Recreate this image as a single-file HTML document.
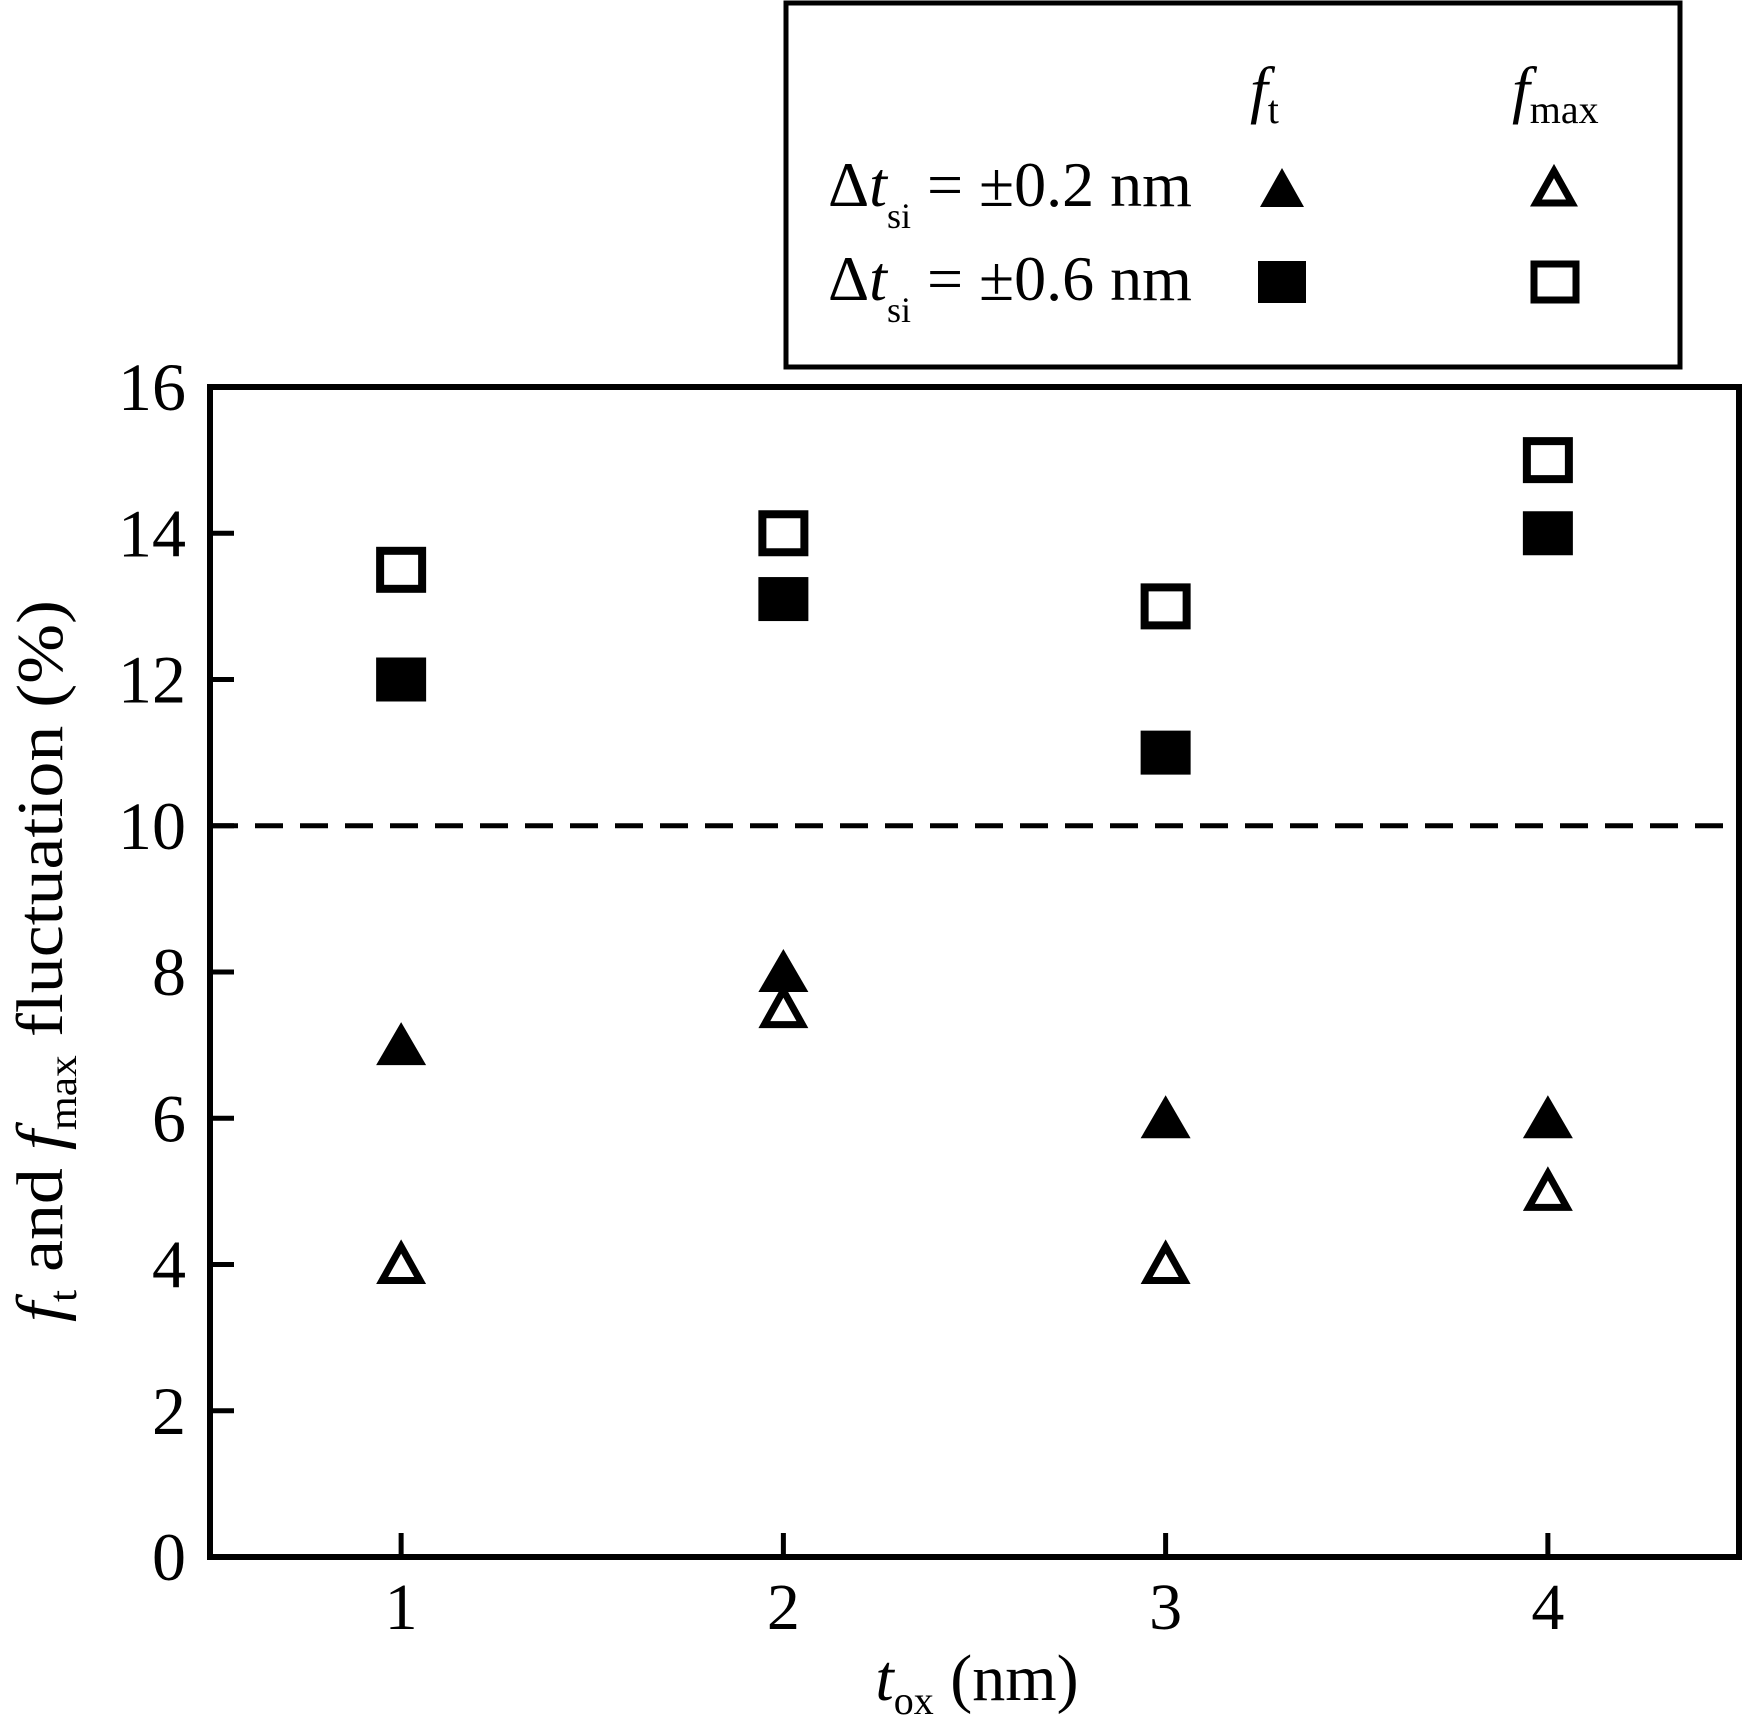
<!DOCTYPE html>
<html><head><meta charset="utf-8"><style>
html,body{margin:0;padding:0;background:#fff}
svg{display:block;font-family:"Liberation Serif",serif}
</style></head><body>
<svg id="chart" width="1743" height="1721" viewBox="0 0 1743 1721" xmlns="http://www.w3.org/2000/svg">
<rect width="1743" height="1721" fill="#fff"/>
<g id="legend">
  <rect x="786" y="3" width="894" height="364" fill="none" stroke="#000" stroke-width="5"/>
  <text x="1250" y="111" font-size="64" font-style="italic">f<tspan font-size="40" font-style="normal" dy="12">t</tspan></text>
  <text x="1512" y="111" font-size="64" font-style="italic">f<tspan font-size="40" font-style="normal" dy="12">max</tspan></text>
  <text x="828" y="206" font-size="64">Δ<tspan font-style="italic">t</tspan><tspan font-size="36" dy="22">si</tspan><tspan dy="-22"> = ±0.2 nm</tspan></text>
  <text x="828" y="300" font-size="64">Δ<tspan font-style="italic">t</tspan><tspan font-size="36" dy="22">si</tspan><tspan dy="-22"> = ±0.6 nm</tspan></text>
  <polygon points="1282,168 1304,207 1260,207" fill="#000"/>
  <polygon points="1554,171 1572,203 1536,203" fill="none" stroke="#000" stroke-width="7"/>
  <rect x="1258" y="261" width="48" height="42" fill="#000"/>
  <rect x="1534" y="264" width="42" height="36" fill="none" stroke="#000" stroke-width="7"/>
</g>
<g id="axes"></g>
<g id="marks"></g>
<text x="977" y="1700" font-size="66" text-anchor="middle"><tspan font-style="italic">t</tspan><tspan font-size="40" dy="14">ox</tspan><tspan dy="-14"> (nm)</tspan></text>
<text transform="translate(62,961) rotate(-90)" font-size="66" text-anchor="middle" textLength="722" lengthAdjust="spacingAndGlyphs"><tspan font-style="italic">f</tspan><tspan font-size="40" dy="14">t</tspan><tspan dy="-14"> and </tspan><tspan font-style="italic">f</tspan><tspan font-size="40" dy="14">max</tspan><tspan dy="-14"> fluctuation (%)</tspan></text>
</svg>
<script>
const categories = [1, 2, 3, 4];
const ftSi06 = [12, 13.1, 11, 14];
const fmaxSi06 = [13.5, 14, 13, 15];
const ftSi02 = [7, 8, 6, 6];
const fmaxSi02 = [4, 7.5, 4, 5];
const xTicks = [1, 2, 3, 4];
const yTicks = [0, 2, 4, 6, 8, 10, 12, 14, 16];
const thresholdValue = 10;

const NS = 'http://www.w3.org/2000/svg';
const L = 210, R = 1739, T = 387, B = 1557;
const xMin = 0.5, xMax = 4.5, yMin = 0, yMax = 16;
function xs(v){ return L + (v - xMin) / (xMax - xMin) * (R - L); }
function ys(v){ return B - (v - yMin) / (yMax - yMin) * (B - T); }
function mk(tag, attrs, parent){
  const e = document.createElementNS(NS, tag);
  for (const k in attrs) e.setAttribute(k, attrs[k]);
  parent.appendChild(e);
  return e;
}
const axes = document.getElementById('axes');
const marks = document.getElementById('marks');

xTicks.forEach(t => {
  const ln = mk('line', {x1: xs(t), x2: xs(t), y1: B, y2: B - 24, stroke: '#000', 'stroke-width': 5}, axes);
  
  
  const tx = mk('text', {x: xs(t), y: B + 72, 'font-size': 66, 'text-anchor': 'middle'}, axes);
  tx.textContent = t;
  
  
});
yTicks.forEach(t => {
  const ln = mk('line', {x1: L, x2: L + 24, y1: ys(t), y2: ys(t), stroke: '#000', 'stroke-width': 5}, axes);
  
  
  const tx = mk('text', {x: 186, y: ys(t) + 23, 'font-size': 68, 'text-anchor': 'end'}, axes);
  tx.textContent = t;
  
  
});
const frame = mk('rect', {x: L, y: T, width: R - L, height: B - T, fill: 'none', stroke: '#000', 'stroke-width': 6}, axes);


const dash = mk('line', {x1: L, x2: R, y1: ys(thresholdValue), y2: ys(thresholdValue), stroke: '#000', 'stroke-width': 5, 'stroke-dasharray': '28 17'}, axes);



function square(cx, cy, filled, name){
  const e = filled
    ? mk('rect', {x: cx - 25, y: cy - 22, width: 50, height: 44, fill: '#000'}, marks)
    : mk('rect', {x: cx - 21, y: cy - 19, width: 42, height: 38, fill: '#fff', stroke: '#000', 'stroke-width': 8}, marks);
  
  
}
function tri(cx, cy, filled, name){
  const e = filled
    ? mk('polygon', {points: `${cx},${cy-23} ${cx+25},${cy+20} ${cx-25},${cy+20}`, fill: '#000'}, marks)
    : mk('polygon', {points: `${cx},${cy-18} ${cx+19},${cy+16} ${cx-19},${cy+16}`, fill: '#fff', stroke: '#000', 'stroke-width': 7}, marks);
  
  
}
categories.forEach((c, i) => {
  square(xs(c), ys(fmaxSi06[i]), false, 'point-fmax-06');
  square(xs(c), ys(ftSi06[i]), true, 'point-ft-06');
  tri(xs(c), ys(fmaxSi02[i]), false, 'point-fmax-02');
  tri(xs(c), ys(ftSi02[i]), true, 'point-ft-02');
});
</script>
</body></html>
